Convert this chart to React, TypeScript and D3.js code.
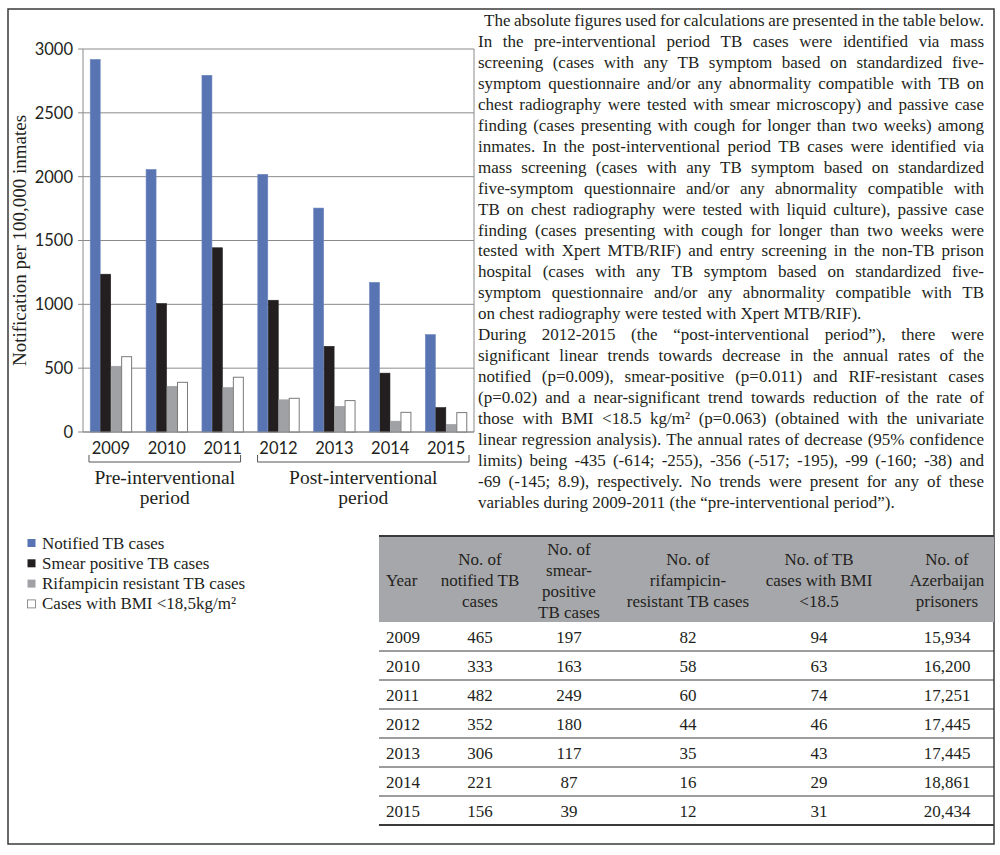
import { scaleBand, scaleLinear } from "d3";
import { useMemo } from "react";

// chart: notification per 100,000 inmates
const years = ["2009", "2010", "2011", "2012", "2013", "2014", "2015"];
const notifiedRate = [2918, 2056, 2794, 2018, 1754, 1172, 763];
const smearRate = [1236, 1006, 1443, 1032, 671, 461, 191];
const rifRate = [515, 358, 348, 252, 201, 85, 59];
const bmiRate = [590, 389, 429, 264, 246, 154, 152];
const yTicks = [0, 500, 1000, 1500, 2000, 2500, 3000];

const seriesNames = [
  "Notified TB cases",
  "Smear positive TB cases",
  "Rifampicin resistant TB cases",
  "Cases with BMI <18,5kg/m²",
];

// table: absolute figures
const tableYears = ["2009", "2010", "2011", "2012", "2013", "2014", "2015"];
const notifiedCount = [465, 333, 482, 352, 306, 221, 156];
const smearCount = [197, 163, 249, 180, 117, 87, 39];
const rifCount = [82, 58, 60, 44, 35, 16, 12];
const bmiCount = [94, 63, 74, 46, 43, 29, 31];
const prisoners = ["15,934", "16,200", "17,251", "17,445", "17,445", "18,861", "20,434"];
const tableHeaders = [
  ["Year"],
  ["No. of", "notified TB", "cases"],
  ["No. of", "smear-", "positive", "TB cases"],
  ["No. of", "rifampicin-", "resistant TB cases"],
  ["No. of TB", "cases with BMI", "<18.5"],
  ["No. of", "Azerbaijan", "prisoners"],
];

const paragraphLines = [
  "The absolute figures used for calculations are presented in the table below.",
  "In the pre-interventional period TB cases were identified via mass",
  "screening (cases with any TB symptom based on standardized five-",
  "symptom questionnaire and/or any abnormality compatible with TB on",
  "chest radiography were tested with smear microscopy) and passive case",
  "finding (cases presenting with cough for longer than two weeks) among",
  "inmates. In the post-interventional period TB cases were identified via",
  "mass screening (cases with any TB symptom based on standardized",
  "five-symptom questionnaire and/or any abnormality compatible with",
  "TB on chest radiography were tested with liquid culture), passive case",
  "finding (cases presenting with cough for longer than two weeks were",
  "tested with Xpert MTB/RIF) and entry screening in the non-TB prison",
  "hospital (cases with any TB symptom based on standardized five-",
  "symptom questionnaire and/or any abnormality compatible with TB",
  "on chest radiography were tested with Xpert MTB/RIF).",
  "During 2012-2015 (the “post-interventional period”), there were",
  "significant linear trends towards decrease in the annual rates of the",
  "notified (p=0.009), smear-positive (p=0.011) and RIF-resistant cases",
  "(p=0.02) and a near-significant trend towards reduction of the rate of",
  "those with BMI <18.5 kg/m² (p=0.063) (obtained with the univariate",
  "linear regression analysis). The annual rates of decrease (95% confidence",
  "limits) being -435 (-614; -255), -356 (-517; -195), -99 (-160; -38) and",
  "-69 (-145; 8.9), respectively. No trends were present for any of these",
  "variables during 2009-2011 (the “pre-interventional period”).",
];
const raggedLines = [14, 23];

const serif = '"Liberation Serif", "Times New Roman", serif';
const sans = 'Lato, "Open Sans", sans-serif';
const ink = "#231f20";
const fills = ["#5874b3", "#231f20", "#a0a1a5", "#ffffff"];
const strokes = ["#6c85bf", "#231f20", "#9a9b9f", "#7a7a7a"];

export default function App() {
  const plot = { left: 83, right: 474, top: 49, bottom: 432 };
  const series = [notifiedRate, smearRate, rifRate, bmiRate];

  const x = scaleBand<string>()
    .domain(years)
    .range([plot.left, plot.right])
    .paddingInner(0.25)
    .paddingOuter(0.125);
  const xs = scaleBand<number>()
    .domain([0, 1, 2, 3])
    .range([0, x.bandwidth()]);
  const y = scaleLinear().domain([0, 3000]).range([plot.bottom, plot.top]);

  const textLeft = 478;
  const textRight = 984;
  const firstIndent = 6;

  const measure = useMemo(() => {
    const ctx = document.createElement("canvas").getContext("2d");
    return (s: string, size: number) => {
      if (!ctx) return s.length * size * 0.45;
      ctx.font = `${size}px ${serif}`;
      return ctx.measureText(s).width;
    };
  }, []);

  // fit the tightest justified line, then allow a little squeeze of spaces
  const bodySize = useMemo(() => {
    let best = 18;
    paragraphLines.forEach((line, i) => {
      if (raggedLines.includes(i)) return;
      const w = textRight - textLeft - (i === 0 ? firstIndent : 0);
      const r = w / (measure(line, 100) / 100);
      best = Math.min(best, r);
    });
    return Math.min(best * 1.03, 17);
  }, [measure]);

  const body = paragraphLines.map((line, i) => {
    const left = textLeft + (i === 0 ? firstIndent : 0);
    const yPos = 26 + i * 20.95;
    if (raggedLines.includes(i)) {
      return (
        <text key={i} x={left} y={yPos} fontSize={bodySize}>
          {line}
        </text>
      );
    }
    const words = line.split(" ");
    const widths = words.map((w) => measure(w, bodySize));
    const total = widths.reduce((a, b) => a + b, 0);
    const gap = (textRight - left - total) / (words.length - 1);
    let cursor = left;
    return (
      <text key={i} y={yPos} fontSize={bodySize}>
        {words.map((w, j) => {
          const pos = cursor;
          cursor += widths[j] + gap;
          return (
            <tspan key={j} x={pos}>
              {w}
            </tspan>
          );
        })}
      </text>
    );
  });

  // table geometry
  const tLeft = 379;
  const tRight = 994;
  const tTop = 536;
  const headBottom = 622;
  const rowH = 29;
  const colX = [386, 480, 569, 688, 819, 947];
  const rows = tableYears.map((yr, i) => [
    yr,
    String(notifiedCount[i]),
    String(smearCount[i]),
    String(rifCount[i]),
    String(bmiCount[i]),
    prisoners[i],
  ]);

  const preStart = (x("2009") ?? 0) - 1;
  const preEnd = (x("2011") ?? 0) + x.bandwidth() - 3;
  const postStart = x("2012") ?? 0;
  const postEnd = (x("2015") ?? 0) + x.bandwidth() + 2;

  return (
    <div style={{ position: "absolute", left: 0, top: 0 }}>
      <svg width={1000} height={855} viewBox="0 0 1000 855" style={{ display: "block", background: "#fff" }}>
        <g fontFamily={serif} fill={ink}>
          {/* outer frame */}
          <rect x={8} y={9} width={986} height={835} fill="none" stroke="#3a3a3a" strokeWidth={1.5} />

          {/* grid */}
          {yTicks.map((t) => (
            <g key={t}>
              <line x1={plot.left - 5} x2={plot.right} y1={y(t)} y2={y(t)} stroke="#8a8a8a" strokeWidth={1} />
              <text
                x={plot.left - 10}
                y={y(t)}
                dy="0.36em"
                textAnchor="end"
                fontFamily={sans}
                fontSize={16.5}
              >
                {t}
              </text>
            </g>
          ))}
          <line x1={plot.left} x2={plot.left} y1={plot.top} y2={plot.bottom} stroke="#8a8a8a" />
          <line x1={plot.right} x2={plot.right} y1={plot.top} y2={plot.bottom} stroke="#8a8a8a" />

          {/* bars */}
          {years.map((yr, i) => (
            <g key={yr} transform={`translate(${x(yr)},0)`}>
              {series.map((s, k) => (
                <rect
                  key={k}
                  x={(xs(k) ?? 0) + 0.25}
                  y={y(s[i])}
                  width={xs.bandwidth() - 0.5}
                  height={y(0) - y(s[i])}
                  fill={fills[k]}
                  stroke={strokes[k]}
                  strokeWidth={k === 3 ? 1 : 0.6}
                />
              ))}
            </g>
          ))}
          <line x1={plot.left} x2={plot.right} y1={y(0)} y2={y(0)} stroke="#8a8a8a" />

          {/* year labels */}
          {years.map((yr) => (
            <text
              key={yr}
              x={(x(yr) ?? 0) + x.bandwidth() / 2}
              y={454}
              textAnchor="middle"
              fontFamily={sans}
              fontSize={16.5}
            >
              {yr}
            </text>
          ))}

          {/* period brackets */}
          <path
            d={`M${preStart},455 V462 H${preEnd} V455`}
            fill="none"
            stroke="#555"
            strokeWidth={1}
          />
          <path
            d={`M${postStart},455 V462 H${postEnd} V455`}
            fill="none"
            stroke="#555"
            strokeWidth={1}
          />
          <text x={(preStart + preEnd) / 2} y={484} textAnchor="middle" fontSize={19.5}>
            Pre-interventional
          </text>
          <text x={(preStart + preEnd) / 2} y={504} textAnchor="middle" fontSize={19.5}>
            period
          </text>
          <text x={(postStart + postEnd) / 2} y={484} textAnchor="middle" fontSize={19.5}>
            Post-interventional
          </text>
          <text x={(postStart + postEnd) / 2} y={504} textAnchor="middle" fontSize={19.5}>
            period
          </text>

          {/* y axis title */}
          <text
            transform={`translate(26,${(plot.top + plot.bottom) / 2}) rotate(-90)`}
            textAnchor="middle"
            fontSize={19}
          >
            Notification per 100,000 inmates
          </text>

          {/* legend */}
          {seriesNames.map((name, k) => (
            <g key={name} transform={`translate(27,${543 + k * 20.3})`}>
              <rect
                x={0.5}
                y={-4}
                width={8}
                height={8}
                fill={fills[k]}
                stroke={k === 3 ? "#777" : fills[k]}
                strokeWidth={k === 3 ? 0.8 : 0}
              />
              <text x={15} y={5.5} fontSize={17}>
                {name}
              </text>
            </g>
          ))}

          {/* paragraph */}
          {body}

          {/* table */}
          <rect x={tLeft} y={tTop} width={tRight - tLeft} height={headBottom - tTop} fill="#a6a7aa" />
          <line x1={tLeft} x2={tRight} y1={tTop} y2={tTop} stroke="#3a3a3a" strokeWidth={2} />
          {tableHeaders.map((lines, c) => {
            const mid = 580;
            const start = mid - ((lines.length - 1) * 21) / 2;
            return lines.map((ln, j) => (
              <text
                key={`${c}-${j}`}
                x={colX[c]}
                y={start + j * 21 + 6}
                textAnchor={c === 0 ? "start" : "middle"}
                fontSize={17}
              >
                {ln}
              </text>
            ));
          })}
          {rows.map((r, i) => {
            const top = headBottom + i * rowH;
            return (
              <g key={r[0]}>
                {r.map((cell, c) => (
                  <text
                    key={c}
                    x={colX[c]}
                    y={top + rowH / 2 + 6}
                    textAnchor={c === 0 ? "start" : "middle"}
                    fontSize={17}
                  >
                    {cell}
                  </text>
                ))}
                <line
                  x1={tLeft}
                  x2={tRight}
                  y1={top + rowH}
                  y2={top + rowH}
                  stroke="#3a3a3a"
                  strokeWidth={i === rows.length - 1 ? 2 : 1}
                />
              </g>
            );
          })}
        </g>
      </svg>
    </div>
  );
}
